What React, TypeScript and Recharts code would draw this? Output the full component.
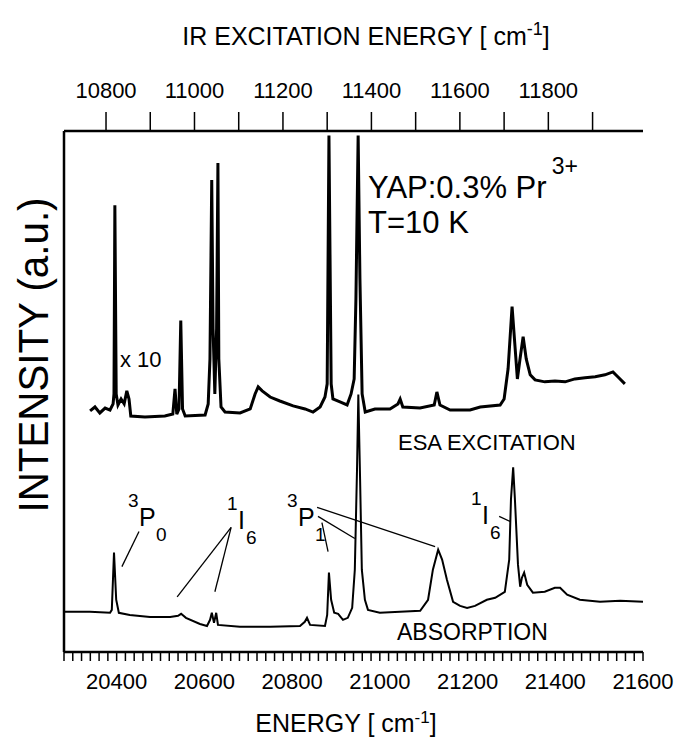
import React from "react";
import { LineChart, Line, XAxis, YAxis, ReferenceLine } from "recharts";

// absorption spectrum, bottom axis (cm-1)
const absEnergy = [
  20280, 20339, 20385, 20389, 20394, 20399, 20405, 20430, 20476, 20522, 20540, 20547, 20558,
  20590, 20606, 20613, 20617, 20622, 20627, 20631, 20681, 20750, 20818, 20829, 20834, 20841,
  20875, 20880, 20884, 20889, 20896, 20905, 20916, 20927, 20937, 20943, 20948, 20951, 20955,
  20959, 20966, 20973, 21000, 21046, 21092, 21110, 21121, 21133, 21142, 21153, 21167, 21183,
  21199, 21217, 21244, 21263, 21285, 21295, 21299, 21304, 21308, 21315, 21320, 21324, 21329,
  21336, 21349, 21376, 21399, 21411, 21427, 21456, 21502, 21548, 21600,
];
const absIntensity = [
  2.62, 2.62, 2.56, 2.75, 6.49, 3.41, 2.56, 2.42, 2.29, 2.29, 2.36, 2.49, 2.23,
  1.83, 1.7, 2.1, 2.56, 1.9, 2.56, 1.77, 1.64, 1.64, 1.7, 1.97, 2.23, 1.77,
  1.7, 2.42, 5.18, 3.41, 2.56, 2.49, 2.1, 2.23, 2.88, 5.37, 11.9, 16.8, 11.3,
  5.37, 3.41, 2.75, 2.56, 2.62, 2.69, 3.41, 5.37, 6.68, 6.03, 4.72, 3.28, 3.01,
  2.88, 3.01, 3.41, 3.54, 3.93, 6.03, 9.96, 12.06, 9.96, 5.7, 4.26, 4.85, 5.18,
  4.39, 3.87, 3.93, 4.19, 4.19, 3.74, 3.41, 3.28, 3.34, 3.28,
];

// ESA excitation spectrum, top axis (IR cm-1)
const esaEnergy = [
  10764, 10775, 10786, 10798, 10809, 10816, 10818, 10820, 10823, 10827, 10834, 10841, 10847,
  10852, 10856, 10888, 10933, 10951, 10956, 10960, 10965, 10969, 10973, 10979, 11024, 11031,
  11035, 11039, 11042, 11046, 11050, 11053, 11055, 11060, 11069, 11103, 11126, 11137, 11144,
  11153, 11171, 11193, 11223, 11250, 11268, 11284, 11295, 11300, 11304, 11309, 11313, 11329,
  11345, 11354, 11361, 11365, 11370, 11374, 11379, 11386, 11408, 11442, 11460, 11465, 11471,
  11510, 11542, 11548, 11555, 11578, 11623, 11646, 11691, 11700, 11709, 11718, 11725, 11730,
  11736, 11743, 11750, 11759, 11770, 11792, 11815, 11838, 11860, 11883, 11906, 11928, 11946,
  11957, 11973,
];
const esaIntensity = [
  15.73, 15.99, 15.6, 15.92, 15.79, 16.19, 16.84, 29.16, 16.84, 16.12, 16.51, 16.19, 17.04,
  16.51, 15.4, 15.33, 15.4, 15.53, 17.17, 15.53, 15.86, 21.63, 15.86, 15.4, 15.47, 16.19,
  19.13, 30.8, 21.1, 16.84, 21.1, 31.91, 19.13, 15.99, 15.66, 15.6, 15.86, 16.84, 17.3,
  17.04, 16.64, 16.38, 16.06, 15.86, 15.66, 15.99, 16.64, 17.5, 33.7, 17.5, 16.51, 16.32,
  16.12, 16.84, 17.82, 23.07, 33.7, 24.4, 16.84, 15.66, 15.86, 15.86, 16.19, 16.51, 15.99,
  15.92, 16.12, 16.97, 16.12, 15.79, 15.79, 15.99, 16.12, 16.51, 18.48, 22.54, 19.79, 17.82,
  19.13, 20.58, 19.13, 18.09, 17.76, 17.63, 17.69, 17.63, 17.82, 17.89, 17.96, 18.09, 18.28,
  17.96, 17.5,
];

const bottomTicks = Array.from({ length: 67 }, (_, i) => 20280 + i * 20);
const bottomLabels = [20400, 20600, 20800, 21000, 21200, 21400, 21600];
const topTicks = [10800, 10900, 11000, 11100, 11200, 11300, 11400, 11500, 11600, 11700, 11800, 11900];
const topLabels = [10800, 11000, 11200, 11400, 11600, 11800];
const yTicks = Array.from({ length: 35 }, (_, i) => i);

// leader lines for the level labels: [x1, y1, x2, y2] in bottom-axis units
const leaders = [
  [20451, 7.86, 20412, 5.57],
  [20661, 8.13, 20538, 3.6],
  [20661, 8.13, 20624, 3.93],
  [20857, 9.44, 21126, 6.88],
  [20859, 8.85, 20943, 7.41],
  [20868, 8.45, 20882, 6.55],
  [21272, 8.85, 21297, 8.52],
];

const absData = absEnergy.map((e, i) => ({ e, v: absIntensity[i] }));
const esaData = esaEnergy.map((e, i) => ({ e, v: esaIntensity[i] }));

const FONT = "'Liberation Sans', Arial, sans-serif";
const tickFont = { fontSize: 22, fill: "#000", fontFamily: FONT };

function Level({ x, y, sup, main, sub }: { x: number; y: number; sup: string; main: string; sub: string }) {
  const w = main === "P" ? 17 : 8;
  return (
    <g fontFamily={FONT} fill="#000">
      <text x={x} y={y} fontSize={19}>{sup}</text>
      <text x={x + 11} y={y + 19} fontSize={25}>{main}</text>
      <text x={x + 11 + w} y={y + 34} fontSize={19}>{sub}</text>
    </g>
  );
}

export default function App() {
  return (
    <div style={{ position: "absolute", left: 0, top: 0, width: 695, height: 746, background: "#fff" }}>
      <LineChart
        width={695}
        height={746}
        margin={{ top: 71, right: 52, bottom: 54, left: 44 }}
      >
        <XAxis
          xAxisId="bottom"
          dataKey="e"
          type="number"
          domain={[20280, 21600]}
          allowDataOverflow
          ticks={bottomTicks}
          interval={0}
          height={40}
          tickSize={9}
          tickMargin={12}
          tick={tickFont}
          tickFormatter={(v: number) => (bottomLabels.includes(v) ? String(v) : "")}
          axisLine={{ stroke: "#000", strokeWidth: 2.5 }}
          tickLine={{ stroke: "#000", strokeWidth: 1.5 }}
        />
        <XAxis
          xAxisId="top"
          orientation="top"
          dataKey="e"
          type="number"
          domain={[10705, 12014]}
          allowDataOverflow
          ticks={topTicks}
          interval={0}
          height={60}
          tickSize={19}
          tickMargin={14}
          tick={tickFont}
          tickFormatter={(v: number) => (topLabels.includes(v) ? String(v) : "")}
          axisLine={{ stroke: "#000", strokeWidth: 2.5 }}
          tickLine={{ stroke: "#000", strokeWidth: 1.5 }}
        />
        <YAxis
          yAxisId="y"
          type="number"
          domain={[0, 34]}
          ticks={yTicks}
          interval={0}
          width={20}
          tickSize={10}
          tick={false}
          axisLine={{ stroke: "#000", strokeWidth: 2.5 }}
          tickLine={{ stroke: "#000", strokeWidth: 1.5 }}
        />
        {leaders.map(([x1, y1, x2, y2], i) => (
          <ReferenceLine
            key={i}
            xAxisId="bottom"
            yAxisId="y"
            segment={[{ x: x1, y: y1 }, { x: x2, y: y2 }]}
            stroke="#000"
            strokeWidth={1.3}
          />
        ))}
        <Line
          xAxisId="bottom"
          yAxisId="y"
          data={absData}
          dataKey="v"
          type="linear"
          stroke="#000"
          strokeWidth={2}
          dot={false}
          isAnimationActive={false}
        />
        <Line
          xAxisId="top"
          yAxisId="y"
          data={esaData}
          dataKey="v"
          type="linear"
          stroke="#000"
          strokeWidth={3}
          dot={false}
          isAnimationActive={false}
        />
      </LineChart>
      <svg
        width={695}
        height={746}
        style={{ position: "absolute", left: 0, top: 0, pointerEvents: "none" }}
      >
        <g fontFamily={FONT} fill="#000">
          <text x={366} y={45} fontSize={25} textAnchor="middle">
            IR EXCITATION ENERGY [ cm<tspan dy={-10} fontSize={18}>-1</tspan><tspan dy={10}>]</tspan>
          </text>
          <text x={346} y={732} fontSize={25} textAnchor="middle">
            ENERGY [ cm<tspan dy={-9} fontSize={17}>-1</tspan><tspan dy={9}>]</tspan>
          </text>
          <text
            transform="translate(48, 355) rotate(-90)"
            fontSize={42}
            textAnchor="middle"
            textLength={315}
            lengthAdjust="spacingAndGlyphs"
          >
            INTENSITY  (a.u.)
          </text>
          <text x={120} y={367} fontSize={22}>x 10</text>
          <text x={368} y={198} fontSize={31}>
            YAP:0.3% Pr<tspan dx={5} dy={-24} fontSize={23}>3+</tspan>
          </text>
          <text x={368} y={233} fontSize={31}>T=10 K</text>
          <text x={398} y={450} fontSize={22}>ESA EXCITATION</text>
          <text x={397} y={640} fontSize={23}>ABSORPTION</text>
        </g>
        <Level x={128} y={507} sup="3" main="P" sub="0" />
        <Level x={227} y={510} sup="1" main="I" sub="6" />
        <Level x={287} y={507} sup="3" main="P" sub="1" />
        <Level x={471} y={505} sup="1" main="I" sub="6" />
      </svg>
    </div>
  );
}
